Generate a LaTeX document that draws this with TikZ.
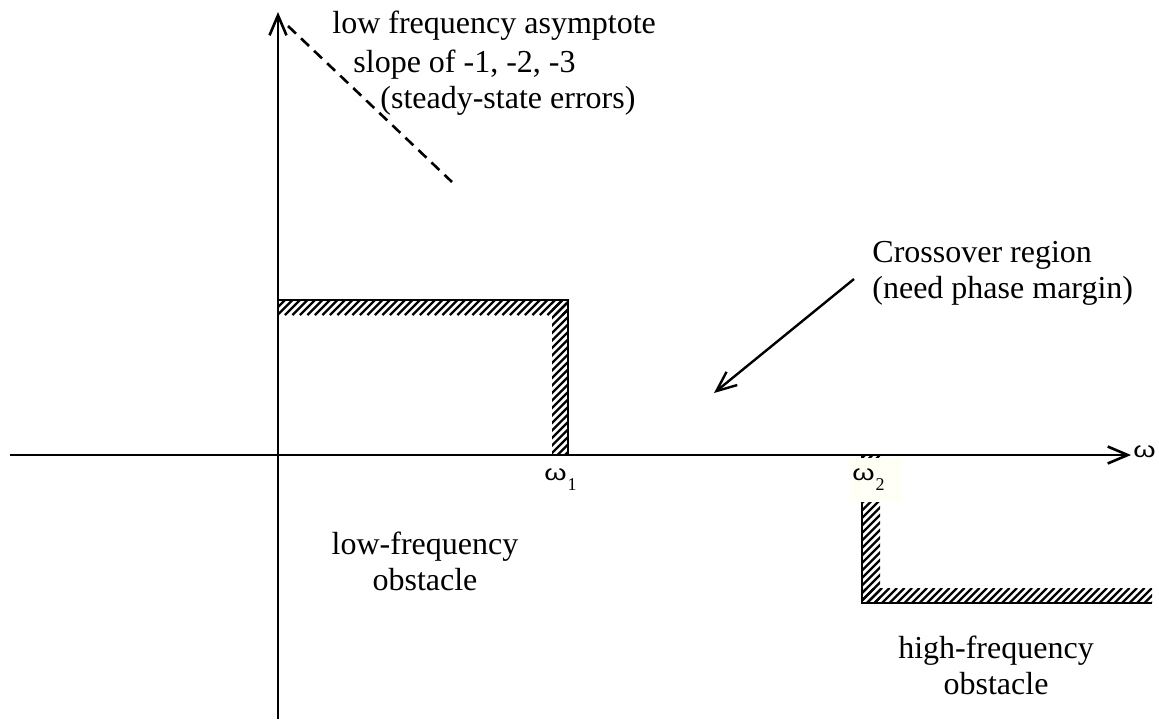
\documentclass[tikz,border=0pt]{standalone}
\usepackage{graphicx}
\usepackage{fontspec}
\setmainfont{Liberation Serif}
\newfontfamily\omegafont{Liberation Sans}
\usetikzlibrary{arrows.meta}
\definecolor{cream}{HTML}{FFFFF6}

% hatched band: x1,y1,x2,y2 (pixels, y down); lines x+y=c share one phase
\newcommand{\hatchbox}[4]{%
  \begin{scope}
    \clip (#1,#2) rectangle (#3,#4);
    \pgfmathsetmacro{\hatchs}{floor((#1+#2)/7.5)*7.5}
    \pgfmathsetmacro{\hatchn}{\hatchs+7.5}
    \pgfmathsetmacro{\hatche}{#3+#4}
    \foreach \hc in {\hatchs,\hatchn,...,\hatche} \draw[hatch] (\hc-#4,#4) -- (\hc-#2,#2);
  \end{scope}}
\newcommand{\om}{\scalebox{1.3}[1]{\omegafont ω}}
\newcommand{\wlab}[1]{\om\hspace{0.5pt}\raisebox{-5pt}{\rmfamily\fontsize{9}{9}\selectfont #1}}

\begin{document}
\begin{tikzpicture}[x=0.5pt,y=-0.5pt,
  font=\fontsize{16}{18}\selectfont,
  axis/.style={line width=1.3pt,-{Straight Barb[length=10pt,width=8.5pt]}},
  wall/.style={line width=1.4pt},
  hatch/.style={line width=1.1pt},
  lbl/.style={inner sep=0pt},
  tick/.style={inner sep=0pt,font=\fontsize{11}{12}\selectfont}]
  \useasboundingbox (0,0) rectangle (1159,719);

  % axes
  \coordinate (xa) at (10,455);
  \coordinate (xb) at (1131,455);
  \coordinate (ya) at (278,719);
  \coordinate (yb) at (278,12);
  \draw[axis] (xa) -- (xb);
  \draw[axis] (ya) -- (yb);
  \node[tick,anchor=base west] (w) at (1133,457) {\om};

  % low frequency asymptote
  \coordinate (asa) at (288,26);
  \coordinate (asb) at (452,182);
  \draw[line width=1.3pt,dash pattern=on 5.5pt off 3.5pt] (asa) -- (asb);
  \node[lbl,anchor=base west] (asy1) at (332,33) {low frequency asymptote};
  \node[lbl,anchor=base west] (asy2) at (353,72) {slope of -1, -2, -3};
  \node[lbl,anchor=base west] (asy3) at (380,108) {(steady-state errors)};

  % low-frequency obstacle
  \hatchbox{278}{300}{568}{315}
  \hatchbox{552}{300}{568}{455}
  \coordinate (la) at (278,300);
  \coordinate (lb) at (568,300);
  \coordinate (lc) at (568,455);
  \draw[wall] (la) -- (lb) -- (lc);
  \node[lbl,align=center,anchor=north] (lfo) at (425,532) {low-frequency\\obstacle};

  % high-frequency obstacle
  \hatchbox{862}{455}{880}{603}
  \hatchbox{862}{588}{1152}{603}
  \coordinate (ha) at (862,455);
  \coordinate (hb) at (862,603);
  \coordinate (hc) at (1152,603);
  \draw[wall] (ha) -- (hb) -- (hc);
  \node[lbl,align=center,anchor=north] (hfo) at (996,636) {high-frequency\\obstacle};

  % break frequencies
  \node[tick,anchor=base west] (w1) at (544,480) {\wlab{1}};
  \node[fill=cream,inner sep=0pt,minimum width=26pt,minimum height=22pt] (w2box) at (876,480) {};
  \node[tick,anchor=base west] (w2) at (852,480) {\wlab{2}};

  % crossover region
  \node[lbl,align=left,anchor=north west] (cross) at (872,241) {Crossover region\\(need phase margin)};
  \coordinate (cra) at (854,279);
  \coordinate (crb) at (714,393);
  \draw[line width=1.2pt,-{Straight Barb[length=10pt,width=8.5pt]}] (cra) -- (crb);
\end{tikzpicture}
\end{document}
